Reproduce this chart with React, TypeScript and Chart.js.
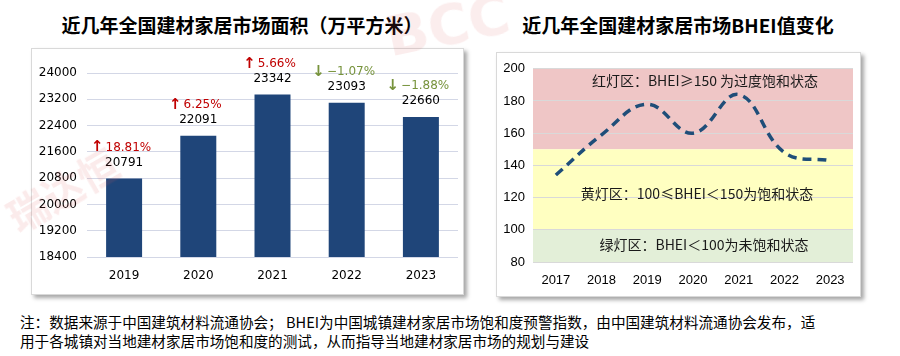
import React, { useEffect, useRef } from "react";
import { Chart, registerables } from "chart.js";

Chart.register(...registerables);

const areaTitle = "近几年全国建材家居市场面积（万平方米）";
const areaYears = ["2019", "2020", "2021", "2022", "2023"];
const areaValues = [20791, 22091, 23342, 23093, 22660];
const areaChanges = [18.81, 6.25, 5.66, -1.07, -1.88];
const areaTicks = { min: 18400, max: 24000, step: 800 };

const bheiTitle = "近几年全国建材家居市场BHEI值变化";
const bheiYears = ["2017", "2018", "2019", "2020", "2021", "2022", "2023"];
const bheiValues = [134, 159, 178, 160, 184, 148, 143];
const bheiTicks = { min: 80, max: 200, step: 20 };
const bandLow = [150, 100, 80];
const bandHigh = [200, 150, 100];
const bandColors = ["#EFC6C6", "#FFFFC1", "#E3EFD8"];
const bandLabels = [
  "红灯区：BHEI≥150 为过度饱和状态",
  "黄灯区：100≤BHEI＜150为饱和状态",
  "绿灯区：BHEI＜100为未饱和状态",
];
const bandLabelValues = [192.5, 122.7, 90.7];
const bandLabelShift = [12, 4, 11];

const noteLines = [
  "注：数据来源于中国建筑材料流通协会； BHEI为中国城镇建材家居市场饱和度预警指数，由中国建筑材料流通协会发布，适",
  "用于各城镇对当地建材家居市场饱和度的测试，从而指导当地建材家居市场的规划与建设",
];

const barLabelPlugin = {
  id: "barLabels",
  afterDatasetsDraw(chart: any) {
    const ctx = chart.ctx;
    const meta = chart.getDatasetMeta(0);
    ctx.save();
    ctx.textBaseline = "middle";
    meta.data.forEach((bar: any, i: number) => {
      const x = bar.x;
      const y = bar.y;
      ctx.textAlign = "center";
      ctx.font = "12px 'DejaVu Sans'";
      ctx.fillStyle = "#000";
      ctx.fillText(String(areaValues[i]), x, y - 16);
      const c = areaChanges[i];
      const up = c >= 0;
      const arrow = up ? "↑" : "↓";
      const txt = (up ? "" : "−") + Math.abs(c).toFixed(2) + "%";
      const color = up ? "#C00000" : "#77933C";
      ctx.font = "bold 15px 'DejaVu Sans'";
      const aw = ctx.measureText(arrow).width;
      ctx.font = "12px 'DejaVu Sans'";
      const tw = ctx.measureText(txt).width;
      const total = aw + 2 + tw;
      const sx = x - 3 - total / 2;
      ctx.textAlign = "left";
      ctx.fillStyle = color;
      ctx.font = "bold 15px 'DejaVu Sans'";
      ctx.fillText(arrow, sx, y - 31);
      ctx.font = "12px 'DejaVu Sans'";
      ctx.fillText(txt, sx + aw + 2, y - 31);
    });
    ctx.restore();
  },
};

const bandPlugin = {
  id: "bands",
  beforeDraw(chart: any) {
    const { ctx, chartArea } = chart;
    const ys = chart.scales.y;
    ctx.save();
    for (let i = 0; i < bandLow.length; i++) {
      const top = ys.getPixelForValue(bandHigh[i]);
      const bot = ys.getPixelForValue(bandLow[i]);
      ctx.fillStyle = bandColors[i];
      ctx.fillRect(chartArea.left, top, chartArea.right - chartArea.left, bot - top);
    }
    ctx.restore();
  },
  beforeDatasetsDraw(chart: any) {
    const { ctx, chartArea } = chart;
    const ys = chart.scales.y;
    ctx.save();
    ctx.font = "14px 'Noto Sans CJK SC'";
    ctx.fillStyle = "#1a1a1a";
    ctx.textAlign = "center";
    ctx.textBaseline = "middle";
    const cx = (chartArea.left + chartArea.right) / 2;
    for (let i = 0; i < bandLabels.length; i++) {
      ctx.fillText(bandLabels[i], cx + bandLabelShift[i], ys.getPixelForValue(bandLabelValues[i]));
    }
    ctx.restore();
  },
};

function AreaChart() {
  const ref = useRef<HTMLCanvasElement>(null);
  useEffect(() => {
    const chart = new Chart(ref.current!, {
      type: "bar",
      data: {
        labels: areaYears,
        datasets: [
          {
            data: areaValues,
            backgroundColor: "#1F4579",
            categoryPercentage: 1,
            barPercentage: 0.485,
          },
        ],
      },
      options: {
        animation: false,
        responsive: false,
        maintainAspectRatio: false,
        layout: { padding: { top: 24, right: 5, bottom: 0, left: 0 } },
        plugins: { legend: { display: false }, tooltip: { enabled: false } },
        scales: {
          x: {
            grid: { display: false, drawTicks: false },
            border: { display: false },
            ticks: { color: "#000", font: { family: "'DejaVu Sans'", size: 12 }, padding: 12 },
            afterFit: (s: any) => {
              s.height = 37;
            },
          },
          y: {
            min: areaTicks.min,
            max: areaTicks.max,
            grid: { color: "#D3D7E6", drawTicks: false, lineWidth: 1 },
            border: { display: false },
            ticks: {
              stepSize: areaTicks.step,
              color: "#000",
              font: { family: "'DejaVu Sans'", size: 12 },
              padding: 10,
              callback: (v: any) => String(v),
            },
            afterFit: (s: any) => {
              s.width = 55;
            },
          },
        },
      },
      plugins: [barLabelPlugin],
    } as any);
    return () => chart.destroy();
  }, []);
  return <canvas ref={ref} width={431} height={245} style={{ display: "block" }} />;
}

function BheiChart() {
  const ref = useRef<HTMLCanvasElement>(null);
  useEffect(() => {
    const chart = new Chart(ref.current!, {
      type: "line",
      data: {
        labels: bheiYears,
        datasets: [
          {
            data: bheiValues,
            borderColor: "#1F4E79",
            borderWidth: 3.5,
            borderDash: [9, 6],
            pointRadius: 0,
            tension: 0.4,
            fill: false,
          },
        ],
      },
      options: {
        animation: false,
        responsive: false,
        maintainAspectRatio: false,
        layout: { padding: { top: 15, right: 7, bottom: 0, left: 0 } },
        plugins: { legend: { display: false }, tooltip: { enabled: false } },
        scales: {
          x: {
            offset: true,
            grid: { display: false, drawTicks: false },
            border: { display: false },
            ticks: { color: "#000", font: { family: "'Liberation Sans'", size: 13 }, padding: 11 },
            afterFit: (s: any) => {
              s.height = 34;
            },
          },
          y: {
            min: bheiTicks.min,
            max: bheiTicks.max,
            grid: { color: "#D9D9D9", drawTicks: false },
            border: { display: false },
            ticks: {
              stepSize: bheiTicks.step,
              color: "#000",
              font: { family: "'Liberation Sans'", size: 13 },
              padding: 8,
              callback: (v: any) => String(v),
            },
            afterFit: (s: any) => {
              s.width = 36;
            },
          },
        },
      },
      plugins: [bandPlugin],
    } as any);
    return () => chart.destroy();
  }, []);
  return <canvas ref={ref} width={363} height={243} style={{ display: "block" }} />;
}

const titleStyle: React.CSSProperties = {
  position: "absolute",
  top: 12,
  fontFamily: "'Noto Sans CJK SC'",
  fontWeight: 700,
  fontSize: 19,
  lineHeight: "26px",
  color: "#000",
  whiteSpace: "nowrap",
  transform: "translateX(-50%)",
};

const boxStyle: React.CSSProperties = {
  position: "absolute",
  background: "#fff",
  border: "1px solid #D9D9D9",
  boxShadow: "3px 3px 4px rgba(0,0,0,0.35)",
  boxSizing: "border-box",
};

export default function App() {
  return (
    <div
      style={{
        position: "fixed",
        left: 0,
        top: 0,
        width: 900,
        height: 356,
        background: "#fff",
        overflow: "hidden",
      }}
    >
      <div style={{ ...titleStyle, left: 242 }}>{areaTitle}</div>
      <div style={{ ...titleStyle, left: 678 }}>{bheiTitle}</div>
      <div style={{ ...boxStyle, left: 31, top: 48, width: 433, height: 247 }}>
        <div style={{ position: "absolute", left: 0, top: 0 }}>
          <AreaChart />
        </div>
      </div>
      <div style={{ ...boxStyle, left: 496, top: 52, width: 365, height: 245 }}>
        <div style={{ position: "absolute", left: 0, top: 0 }}>
          <BheiChart />
        </div>
      </div>
      <div
        style={{
          position: "absolute",
          left: 20,
          top: 312,
          fontFamily: "'Noto Sans CJK SC'",
          fontSize: 14.6,
          lineHeight: "19px",
          color: "#000",
          whiteSpace: "nowrap",
        }}
      >
        {noteLines.map((l, i) => (
          <div key={i}>{l}</div>
        ))}
      </div>
      <div
        style={{
          position: "absolute",
          left: 2,
          top: 160,
          fontFamily: "'Noto Sans CJK SC'",
          fontWeight: 700,
          fontSize: 40,
          color: "rgba(220,90,90,0.12)",
          transform: "rotate(-30deg)",
          whiteSpace: "nowrap",
          pointerEvents: "none",
        }}
      >
        瑞达恒
      </div>
      <div
        style={{
          position: "absolute",
          left: 385,
          top: -8,
          fontFamily: "'DejaVu Sans'",
          fontWeight: 700,
          fontSize: 56,
          color: "rgba(220,90,90,0.11)",
          transform: "rotate(-12deg)",
          whiteSpace: "nowrap",
          pointerEvents: "none",
        }}
      >
        BCC
      </div>
    </div>
  );
}
